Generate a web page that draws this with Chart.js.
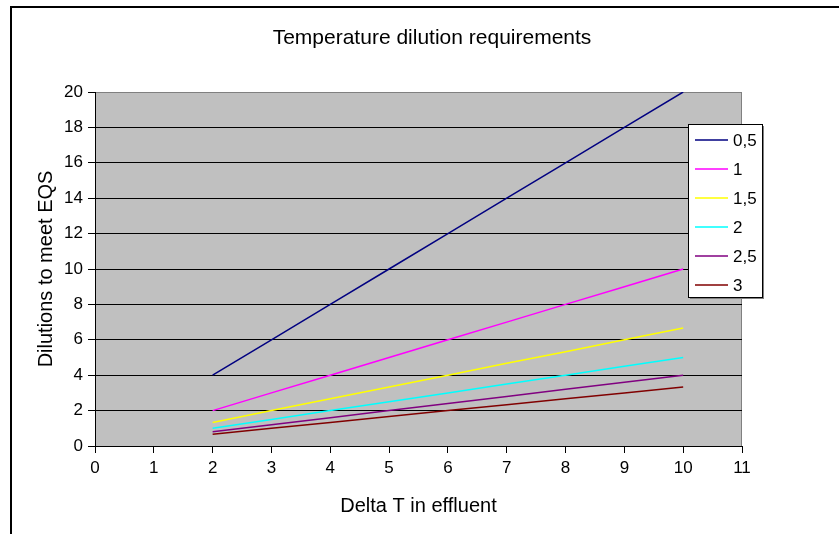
<!DOCTYPE html>
<html>
<head>
<meta charset="utf-8">
<script src="https://cdn.jsdelivr.net/npm/chart.js@4"></script>
<style>
  body { margin: 0; background: #fff; }
  #graphic { display: block; }
</style>
</head>
<body>
<canvas id="graphic" width="839" height="534"></canvas>
<script>
const deltaT = [2, 3, 4, 5, 6, 7, 8, 9, 10]
const seriesNames = ["0,5", "1", "1,5", "2", "2,5", "3"]
const dil05 = [4, 6, 8, 10, 12, 14, 16, 18, 20]
const dil1 = [2, 3, 4, 5, 6, 7, 8, 9, 10]
const dil15 = [1.33, 2, 2.67, 3.33, 4, 4.67, 5.33, 6, 6.67]
const dil2 = [1, 1.5, 2, 2.5, 3, 3.5, 4, 4.5, 5]
const dil25 = [0.8, 1.2, 1.6, 2, 2.4, 2.8, 3.2, 3.6, 4]
const dil3 = [0.67, 1, 1.33, 1.67, 2, 2.33, 2.67, 3, 3.33]
const colors = ["#000080", "#FF00FF", "#FFFF00", "#00FFFF", "#800080", "#800000"]

const font = "'Liberation Sans', Arial, sans-serif"
const ctx = document.querySelector('#graphic').getContext('2d')

const allSeries = [dil05, dil1, dil15, dil2, dil25, dil3]
const datasets = allSeries.map((vals, i) => ({
  label: seriesNames[i],
  data: vals.map((v, j) => ({ x: deltaT[j], y: v })),
  borderColor: colors[i],
  backgroundColor: colors[i],
  borderWidth: 1.5,
  pointRadius: 0,
  tension: 0
}))

// page frame, grey plot area, title
const backdrop = {
  id: "backdrop",
  beforeDraw(chart) {
    const c = chart.ctx
    const a = chart.chartArea
    c.save()
    c.fillStyle = "#fff"
    c.fillRect(0, 0, chart.width, chart.height)
    c.strokeStyle = "#000"
    c.lineWidth = 2
    c.strokeRect(11, 7, 900, 600)
    c.fillStyle = "#C0C0C0"
    c.fillRect(a.left, a.top, a.right - a.left, a.bottom - a.top)
    c.strokeStyle = "#808080"
    c.lineWidth = 1
    c.strokeRect(a.left + 0.5, a.top + 0.5, a.right - a.left - 1, a.bottom - a.top)
    c.fillStyle = "#000"
    c.font = "21px " + font
    c.textAlign = "center"
    c.textBaseline = "middle"
    c.fillText("Temperature dilution requirements", 432, 38)
    c.restore()
  }
}

// boxed legend sitting over the plot's right edge
const boxLegend = {
  id: "boxLegend",
  afterDraw(chart) {
    const c = chart.ctx
    const x0 = 688, y0 = 124, w = 74, h = 173
    c.save()
    c.fillStyle = "#808080"
    c.fillRect(x0 + 2, y0 + 2, w, h)
    c.fillStyle = "#fff"
    c.fillRect(x0, y0, w, h)
    c.strokeStyle = "#000"
    c.lineWidth = 1
    c.strokeRect(x0 + 0.5, y0 + 0.5, w, h)
    c.font = "17px " + font
    c.textBaseline = "middle"
    chart.data.datasets.forEach((ds, i) => {
      const y = y0 + 16 + i * 29
      c.strokeStyle = ds.borderColor
      c.lineWidth = 1.5
      c.beginPath()
      c.moveTo(695, y)
      c.lineTo(728, y)
      c.stroke()
      c.fillStyle = "#000"
      c.fillText(ds.label, 733, y + 1)
    })
    c.restore()
  }
}

new Chart(ctx, {
  type: "line",
  data: { datasets },
  options: {
    responsive: false,
    animation: false,
    layout: { padding: { left: 30, right: 97, top: 92, bottom: 12 } },
    plugins: { legend: { display: false }, tooltip: { enabled: false } },
    scales: {
      x: {
        type: "linear",
        min: 0,
        max: 11,
        afterFit: (s) => { s.height = 76 },
        ticks: { stepSize: 1, color: "#000", font: { family: font, size: 17 }, padding: 5 },
        grid: { drawOnChartArea: false, tickLength: 7, tickColor: "#000" },
        border: { color: "#000" },
        title: { display: true, text: "Delta T in effluent", color: "#000", font: { family: font, size: 20 } }
      },
      y: {
        min: 0,
        max: 20,
        afterFit: (s) => { s.width = 65 },
        ticks: { stepSize: 2, color: "#000", font: { family: font, size: 17 }, padding: 5 },
        grid: {
          color: (c) => (c.tick && c.tick.value === 20 ? "#808080" : "#000"),
          tickLength: 7,
          tickColor: "#000"
        },
        border: { color: "#000" },
        title: { display: true, text: "Dilutions to meet EQS", color: "#000", font: { family: font, size: 20 } }
      }
    }
  },
  plugins: [backdrop, boxLegend]
})
</script>
</body>
</html>
